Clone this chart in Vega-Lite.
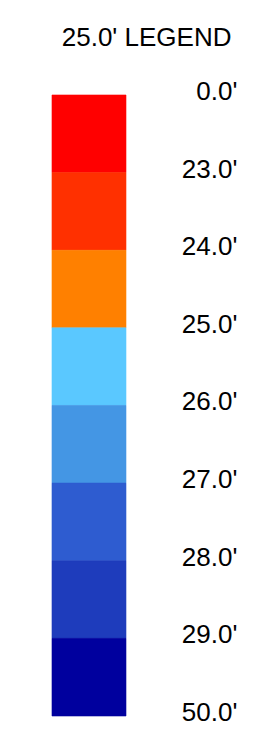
{
  "$schema": "https://vega.github.io/schema/vega-lite/v6.json",
  "width": 255,
  "height": 751,
  "padding": 0,
  "autosize": {"type": "none"},
  "background": "white",
  "config": {"view": {"stroke": null}},
  "datasets": {
    "bands": [
      {"k": 0, "k2": 1, "depth": "0.0'"},
      {"k": 1, "k2": 2, "depth": "23.0'"},
      {"k": 2, "k2": 3, "depth": "24.0'"},
      {"k": 3, "k2": 4, "depth": "25.0'"},
      {"k": 4, "k2": 5, "depth": "26.0'"},
      {"k": 5, "k2": 6, "depth": "27.0'"},
      {"k": 6, "k2": 7, "depth": "28.0'"},
      {"k": 7, "k2": 8, "depth": "29.0'"}
    ],
    "ticks": [
      {"k": 0, "label": "0.0'"},
      {"k": 1, "label": "23.0'"},
      {"k": 2, "label": "24.0'"},
      {"k": 3, "label": "25.0'"},
      {"k": 4, "label": "26.0'"},
      {"k": 5, "label": "27.0'"},
      {"k": 6, "label": "28.0'"},
      {"k": 7, "label": "29.0'"},
      {"k": 8, "label": "50.0'"}
    ]
  },
  "layer": [
    {
      "data": {"name": "bands"},
      "mark": {"type": "rect", "strokeWidth": 0.6},
      "encoding": {
        "x": {"datum": 0.2039, "type": "quantitative", "scale": {"domain": [0, 1], "nice": false, "zero": false}, "axis": null},
        "x2": {"datum": 0.4941},
        "y": {"field": "k", "type": "quantitative", "scale": {"domain": [-1.2238, 8.451], "reverse": true, "nice": false, "zero": false}, "axis": null},
        "y2": {"field": "k2"},
        "fill": {
          "field": "depth",
          "type": "nominal",
          "scale": {
            "domain": ["0.0'", "23.0'", "24.0'", "25.0'", "26.0'", "27.0'", "28.0'", "29.0'"],
            "range": ["#FF0000", "#FF3000", "#FF8000", "#5AC8FF", "#4496E4", "#2E5CD0", "#1E3CBC", "#00009E"]
          },
          "legend": null
        },
        "stroke": {
          "field": "depth",
          "type": "nominal",
          "scale": {
            "domain": ["0.0'", "23.0'", "24.0'", "25.0'", "26.0'", "27.0'", "28.0'", "29.0'"],
            "range": ["#FF0000", "#FF3000", "#FF8000", "#5AC8FF", "#4496E4", "#2E5CD0", "#1E3CBC", "#00009E"]
          },
          "legend": null
        }
      }
    },
    {
      "data": {"name": "ticks"},
      "mark": {"type": "text", "align": "right", "baseline": "middle", "font": "Liberation Sans", "fontSize": 26, "color": "black", "dy": -3},
      "encoding": {
        "x": {"datum": 0.931, "type": "quantitative"},
        "y": {"field": "k", "type": "quantitative"},
        "text": {"field": "label"}
      }
    },
    {
      "data": {"values": [{"title": "25.0' LEGEND"}]},
      "mark": {"type": "text", "align": "center", "baseline": "middle", "font": "Liberation Sans", "fontSize": 26, "color": "black"},
      "encoding": {
        "x": {"datum": 0.575, "type": "quantitative"},
        "y": {"datum": -0.7407, "type": "quantitative"},
        "text": {"field": "title"}
      }
    }
  ]
}
